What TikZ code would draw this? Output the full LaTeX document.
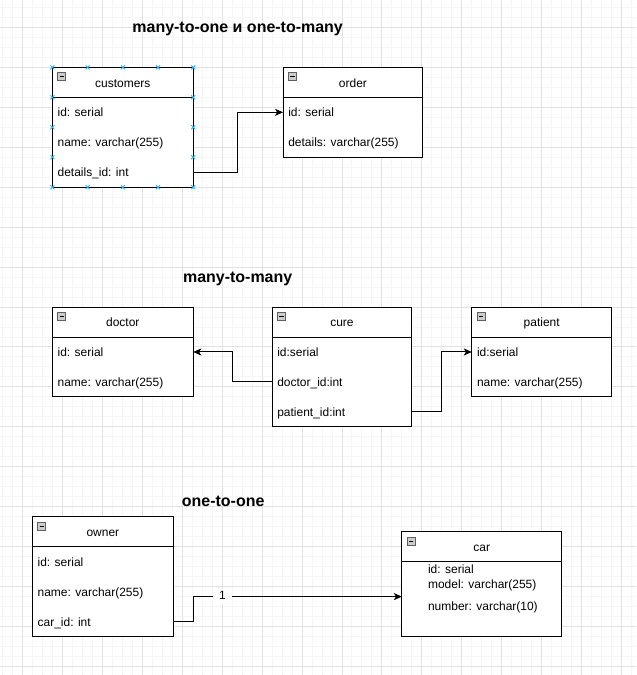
\documentclass[tikz,border=0pt]{standalone}
\usepackage{fontspec}
\setmainfont{Liberation Sans}
\usepackage{tikz}
\usetikzlibrary{arrows.meta, positioning}
\definecolor{gridminor}{HTML}{F6F6F6}
\definecolor{gridmajor}{HTML}{E2E2E2}
\definecolor{handle}{HTML}{29B6F2}
\tikzstyle{tbl-head} = [rectangle, draw=black, line width=1pt, anchor=north west, minimum height=30pt, inner sep=0pt, outer sep=0pt, fill=white, text height=10.5pt, text depth=1pt]
\tikzstyle{tbl-body} = [rectangle, draw=black, line width=1pt, inner sep=0pt, outer sep=0pt, fill=white]
\tikzstyle{field} = [anchor=west, inner sep=0pt, text height=10pt, text depth=1pt]
\tikzstyle{toggle} = [rectangle, anchor=north west, minimum size=8pt, inner sep=0pt, fill=gray!40, draw=gray!75!black, line width=0.6pt,
  path picture={\draw[black, line width=0.9pt] ([xshift=1.8pt]path picture bounding box.west) -- ([xshift=-1.8pt]path picture bounding box.east);}]
\tikzstyle{title} = [font=\bfseries\fontsize{16}{19}\selectfont, text height=12pt, text depth=2pt]
\tikzstyle{arrow} = [line width=1pt, -{Stealth[length=8pt, width=7pt, inset=2pt]}]
\tikzstyle{handle-mark} = [handle, line width=0.9pt]

\begin{document}
\begin{tikzpicture}[x=1pt, y=-1pt, font=\fontsize{12}{14}\selectfont]
  % grid
  \fill [white] (0,0) rectangle (636,675);
  \foreach \g in {2,12,...,632} \draw [gridminor, line width=1pt] (\g,0) -- (\g,675);
  \foreach \g in {7,17,...,667} \draw [gridminor, line width=1pt] (0,\g) -- (636,\g);
  \foreach \g in {22,62,...,622} \draw [gridmajor, line width=1pt] (\g,0) -- (\g,675);
  \foreach \g in {27,67,...,667} \draw [gridmajor, line width=1pt] (0,\g) -- (636,\g);
  \useasboundingbox (0,0) rectangle (636,675);

  % many-to-one
  \node [title] (title-m2o) at (237.5,27.3) {many-to-one и one-to-many};

  \node [tbl-head, minimum width=141pt] (cust) at (52,67) {customers};
  \node [tbl-body, minimum width=141pt, minimum height=90pt, below=0pt of cust] (cust-body) {};
  \node [toggle] (cust-toggle) at ([shift={(5,5)}]cust.north west) {};
  \node [field] (cust-id) at (57,112) {id: serial};
  \node [field] (cust-name) at (57,142) {name: varchar(255)};
  \node [field] (cust-details) at (57,172) {details\_id: int};

  \node [tbl-head, minimum width=140pt] (order) at (283,67) {order};
  \node [tbl-body, minimum width=140pt, minimum height=60pt, below=0pt of order] (order-body) {};
  \node [toggle] (order-toggle) at ([shift={(5,5)}]order.north west) {};
  \node [field] (order-id) at (288,112) {id: serial};
  \node [field] (order-details) at (288,142) {details: varchar(255)};

  \draw [arrow] (cust-details -| cust-body.east) -- ++(44,0) |- (order-id -| order-body.west);

  % selection handles
  \foreach \hx in {52,87.25,122.5,157.75,193}
    \foreach \hy in {67,187}
      \draw [handle-mark] (\hx-2,\hy-2) -- (\hx+2,\hy+2) (\hx-2,\hy+2) -- (\hx+2,\hy-2);
  \foreach \hx in {52,193}
    \foreach \hy in {97,127,157}
      \draw [handle-mark] (\hx-2,\hy-2) -- (\hx+2,\hy+2) (\hx-2,\hy+2) -- (\hx+2,\hy-2);

  % many-to-many
  \node [title] (title-m2m) at (237.5,277.3) {many-to-many};

  \node [tbl-head, minimum width=141pt] (doctor) at (52,307) {doctor};
  \node [tbl-body, minimum width=141pt, minimum height=60pt, below=0pt of doctor] (doctor-body) {};
  \node [toggle] (doctor-toggle) at ([shift={(5,5)}]doctor.north west) {};
  \node [field] (doctor-id) at (57,352) {id: serial};
  \node [field] (doctor-name) at (57,382) {name: varchar(255)};

  \node [tbl-head, minimum width=140pt] (cure) at (272,307) {cure};
  \node [tbl-body, minimum width=140pt, minimum height=90pt, below=0pt of cure] (cure-body) {};
  \node [toggle] (cure-toggle) at ([shift={(5,5)}]cure.north west) {};
  \node [field] (cure-id) at (277,352) {id:serial};
  \node [field] (cure-doctor) at (277,382) {doctor\_id:int};
  \node [field] (cure-patient) at (277,412) {patient\_id:int};

  \node [tbl-head, minimum width=140pt] (patient) at (472,307) {patient};
  \node [tbl-body, minimum width=140pt, minimum height=60pt, below=0pt of patient] (patient-body) {};
  \node [toggle] (patient-toggle) at ([shift={(5,5)}]patient.north west) {};
  \node [field] (patient-id) at (477,352) {id:serial};
  \node [field] (patient-name) at (477,382) {name: varchar(255)};

  \draw [arrow] (cure-doctor -| cure-body.west) -- ++(-40,0) |- (doctor-id -| doctor-body.east);
  \draw [arrow] (cure-patient -| cure-body.east) -- ++(30,0) |- (patient-id -| patient-body.west);

  % one-to-one
  \node [title] (title-o2o) at (223,501.7) {one-to-one};

  \node [tbl-head, minimum width=141pt] (owner) at (32,517) {owner};
  \node [tbl-body, minimum width=141pt, minimum height=90pt, below=0pt of owner] (owner-body) {};
  \node [toggle] (owner-toggle) at ([shift={(5,5)}]owner.north west) {};
  \node [field] (owner-id) at (37,562) {id: serial};
  \node [field] (owner-name) at (37,592) {name: varchar(255)};
  \node [field] (owner-car) at (37,622) {car\_id: int};

  \node [tbl-head, minimum width=160pt] (car) at (402,532) {car};
  \node [tbl-body, minimum width=160pt, minimum height=75pt, below=0pt of car] (car-body) {};
  \node [toggle] (car-toggle) at ([shift={(5,5)}]car.north west) {};
  \node [field] (car-id) at (428,569.5) {id: serial};
  \node [field] (car-model) at (428,584.5) {model: varchar(255)};
  \node [field] (car-number) at (428,606.5) {number: varchar(10)};

  \coordinate (car-in) at (402,597);
  \draw [arrow] (owner-car -| owner-body.east) -- ++(20,0) |- node [pos=0.57, fill=white, inner xsep=6pt, inner ysep=1pt, text height=9.5pt, text depth=3.5pt] (one-label) {1} (car-in);
\end{tikzpicture}
\end{document}
